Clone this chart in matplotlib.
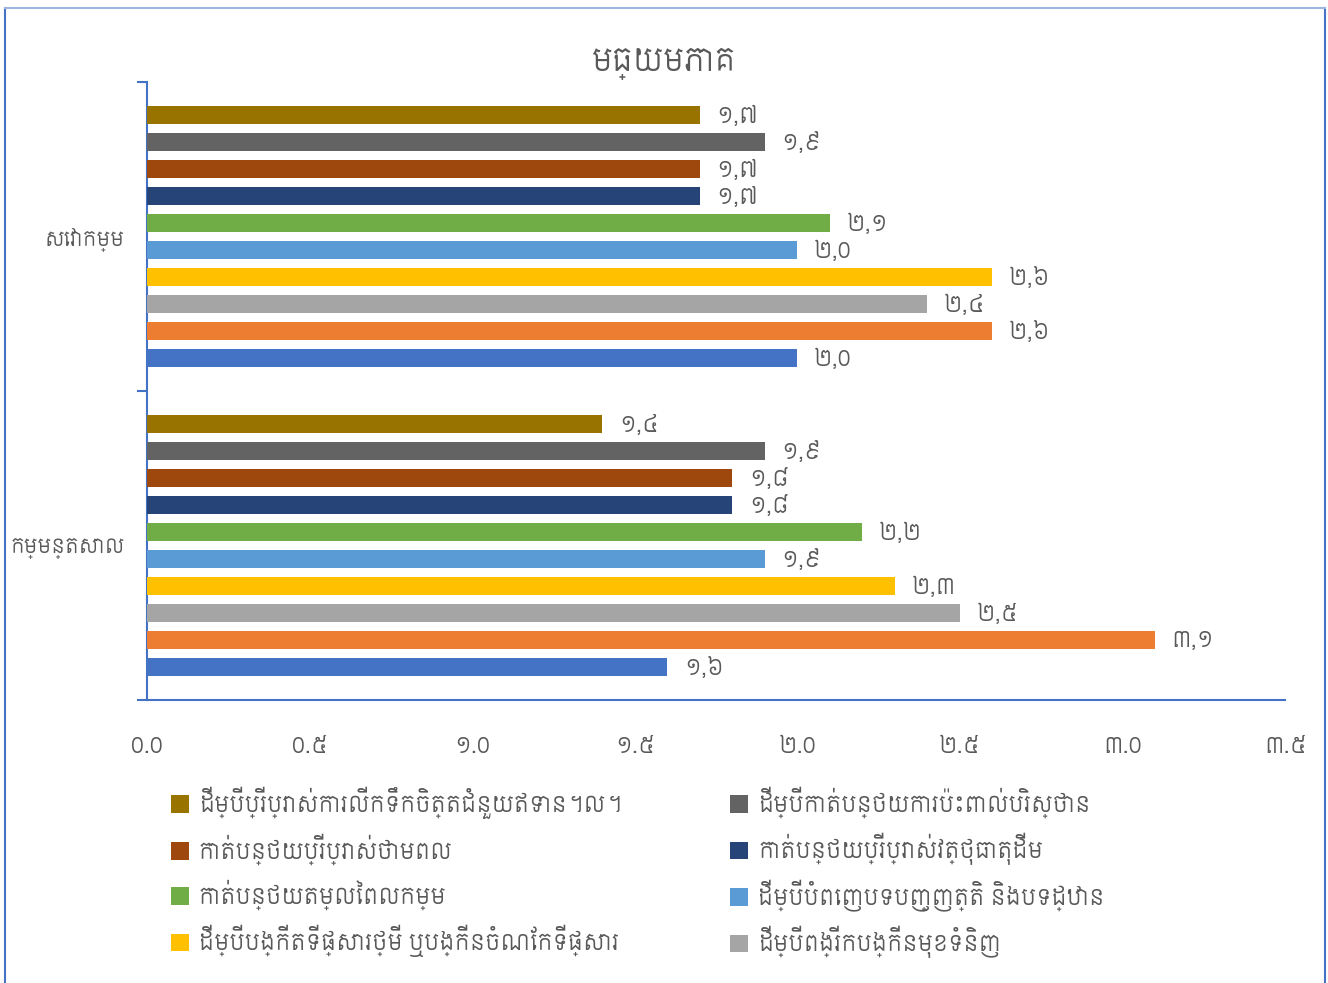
import matplotlib
matplotlib.use("Agg")
import matplotlib.pyplot as plt
import numpy as np

KHMER = ["Siemreap", "DejaVu Sans"]
TEXT_GRAY = "#595959"
AXIS_BLUE = "#4472C4"

# categories (bottom to top on the y axis)
categories = ["កម្មន្តសាល", "សេវាកម្ម"]

# series, in the order they appear from top to bottom inside each group
series_names = [
    "ដើម្បីប្រើប្រាស់ការលើកទឹកចិត្តជំនួយឥទាន។ល។",
    "ដើម្បីកាត់បន្ថយការប៉ះពាល់បរិស្ថាន",
    "កាត់បន្ថយប្រើប្រាស់ថាមពល",
    "កាត់បន្ថយប្រើប្រាស់វត្ថុធាតុដើម",
    "កាត់បន្ថយតម្លៃពលកម្ម",
    "ដើម្បីបំពេញបទបញ្ញត្តិ និងបទដ្ឋាន",
    "ដើម្បីបង្កើតទីផ្សារថ្មី ឬបង្កើនចំណែកទីផ្សារ",
    "ដើម្បីពង្រីកបង្កើនមុខទំនិញ",
    "",
    "",
]
series_colors = [
    "#997300", "#636363", "#9E480E", "#264478", "#70AD47",
    "#5B9BD5", "#FFC000", "#A5A5A5", "#ED7D31", "#4472C4",
]

# values per series: [កម្មន្តសាល, សេវាកម្ម]
industry_values = [1.4, 1.9, 1.8, 1.8, 2.2, 1.9, 2.3, 2.5, 3.1, 1.6]
service_values = [1.7, 1.9, 1.7, 1.7, 2.1, 2.0, 2.6, 2.4, 2.6, 2.0]

x_ticks = [0.0, 0.5, 1.0, 1.5, 2.0, 2.5, 3.0, 3.5]
x_tick_labels = ["0.0", "0.៥", "១.0", "១.៥", "២.0", "២.៥", "៣.0", "៣.៥"]

KH_DIGITS = {"1": "១", "2": "២", "3": "៣", "4": "៤", "5": "៥",
             "6": "៦", "7": "៧", "8": "៨", "9": "៩"}


def khmer_label(v):
    s = f"{v:.1f}".replace(".", ",")
    return "".join(KH_DIGITS.get(c, c) for c in s)


fig = plt.figure(figsize=(13.28, 9.83), dpi=100)
ax = fig.add_axes([0.1107, 0.2879, 0.857, 0.6287])

n = len(series_names)
step = 0.0874
height = 0.058
centers = np.array([0.5, 1.5])

bars_list = []
for i in range(n):
    offset = (n - 1) / 2 * step - i * step
    vals = [industry_values[i], service_values[i]]
    bars = ax.barh(centers + offset, vals, height=height,
                   color=series_colors[i], label=series_names[i], zorder=3)
    bars_list.append(bars)
    for b, v in zip(bars, vals):
        ax.annotate(khmer_label(v), xy=(b.get_width(), b.get_y() + b.get_height() / 2),
                    xytext=(12, -1), textcoords="offset points", va="center", ha="left",
                    fontsize=16, color=TEXT_GRAY, family=KHMER)

ax.set_xlim(0, 3.5)
ax.set_ylim(0, 2)
ax.set_xticks(x_ticks)
ax.set_xticklabels(x_tick_labels, family=KHMER, fontsize=16, color=TEXT_GRAY)
ax.tick_params(axis="x", length=0, pad=27)

ax.set_yticks([0, 1, 2])
ax.set_yticklabels([])
ax.set_yticks(centers, minor=True)
ax.set_yticklabels(categories, minor=True, family=KHMER, fontsize=14.5, color=TEXT_GRAY)
ax.tick_params(axis="y", which="major", length=7, width=1.5, color=AXIS_BLUE, direction="out")
ax.tick_params(axis="y", which="minor", length=0, pad=16)

for side in ["top", "right"]:
    ax.spines[side].set_visible(False)
for side in ["left", "bottom"]:
    ax.spines[side].set_color(AXIS_BLUE)
    ax.spines[side].set_linewidth(1.5)

fig.text(0.4993, 0.935, "មធ្យមភាគ", ha="center", va="center",
         fontsize=22, color=TEXT_GRAY, family=KHMER)

# legend: two columns, only the first eight series are shown
left_idx = [0, 2, 4, 6]
right_idx = [1, 3, 5, 7]
for idx, x0 in [(left_idx, 0.1285), (right_idx, 0.5495)]:
    fig.legend([bars_list[i] for i in idx], [series_names[i] for i in idx],
               loc="upper left", bbox_to_anchor=(x0, 0.2), frameon=False,
               prop={"family": KHMER, "size": 16}, labelcolor=TEXT_GRAY,
               handlelength=0.82, handleheight=0.82, handletextpad=0.45,
               labelspacing=0.66, borderpad=0, borderaxespad=0)

# chart area border
fig.add_artist(plt.Line2D([5 / 1328, 5 / 1328], [0, 1 - 8 / 983], color=AXIS_BLUE, lw=1.5))
fig.add_artist(plt.Line2D([1325 / 1328, 1325 / 1328], [0, 1 - 8 / 983], color=AXIS_BLUE, lw=1.5))
fig.add_artist(plt.Line2D([5 / 1328, 1325 / 1328], [1 - 8 / 983, 1 - 8 / 983], color="#9DB5E0", lw=1.5))

fig.savefig("out.png", dpi=100)
